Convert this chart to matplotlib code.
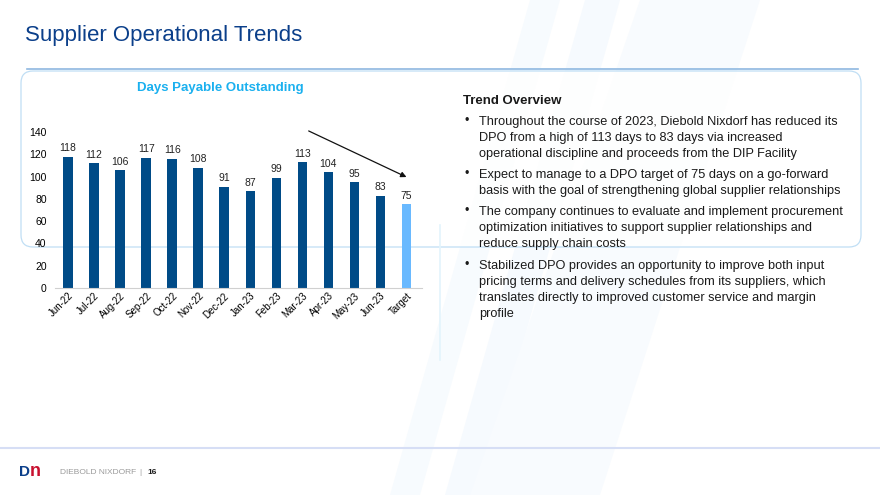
import matplotlib.pyplot as plt
from matplotlib.patches import FancyBboxPatch, Polygon

# Data
months = ["Jun-22", "Jul-22", "Aug-22", "Sep-22", "Oct-22", "Nov-22", "Dec-22",
          "Jan-23", "Feb-23", "Mar-23", "Apr-23", "May-23", "Jun-23", "Target"]
dpo = [118, 112, 106, 117, 116, 108, 91, 87, 99, 113, 104, 95, 83, 75]
yticks = [0, 20, 40, 60, 80, 100, 120, 140]

bullets = [
    "Throughout the course of 2023, Diebold Nixdorf has reduced its\nDPO from a high of 113 days to 83 days via increased\noperational discipline and proceeds from the DIP Facility",
    "Expect to manage to a DPO target of 75 days on a go-forward\nbasis with the goal of strengthening global supplier relationships",
    "The company continues to evaluate and implement procurement\noptimization initiatives to support supplier relationships and\nreduce supply chain costs",
    "Stabilized DPO provides an opportunity to improve both input\npricing terms and delivery schedules from its suppliers, which\ntranslates directly to improved customer service and margin\nprofile",
]

plt.rcParams['font.family'] = ['Liberation Sans', 'DejaVu Sans']
W, H = 880, 495
fig = plt.figure(figsize=(8.8, 4.95), dpi=100)

# background layer in pixel coords (y down)
bg = fig.add_axes([0, 0, 1, 1])
bg.set_xlim(0, W); bg.set_ylim(H, 0); bg.axis('off')

# faint diagonal stripes
for pts, c in [([(530, 0), (560, 0), (420, 495), (390, 495)], "#f7fbfe"),
               ([(585, 0), (620, 0), (480, 495), (445, 495)], "#f6fafe"),
               ([(640, 0), (760, 0), (600, 495), (470, 495)], "#f8fbfe")]:
    bg.add_patch(Polygon(pts, closed=True, fc=c, ec="none", zorder=0))

# title
bg.text(25, 36, "Supplier Operational Trends", fontsize=16, color="#0b3f8a",
        va="center", ha="left")
bg.plot([27, 858], [68.5, 68.5], color="#8fb8e0", lw=1.2)

# panel box
bg.add_patch(FancyBboxPatch((21, 71), 840, 176, boxstyle="round,pad=0,rounding_size=12",
                            fc="white", ec="#b5d9f3", lw=0.9, alpha=0.85, zorder=1))
bg.plot([440, 440], [225, 360], color="#e3f4fc", lw=1.2, zorder=1)

# right text
bg.text(463, 101, "Trend Overview", fontsize=9.5, fontweight="bold", color="#1a1a1a",
        va="center", ha="left", zorder=3)
ys = [121, 174, 211, 265]
for y, b in zip(ys, bullets):
    bg.text(467, y, "•", fontsize=9, color="#1a1a1a", va="center", ha="center", zorder=3)
    bg.text(479, y - 5, b, fontsize=9.2, color="#1a1a1a", va="top", ha="left",
            linespacing=1.45, zorder=3)

# footer
bg.plot([0, W], [448, 448], color="#d6def5", lw=1.5)
bg.text(19, 472, "D", fontsize=11, fontweight="bold", color="#0b3f8a", va="center")
bg.text(30, 472, "n", fontsize=13, fontweight="bold", color="#c8102e", va="center")
bg.text(60, 473, "DIEBOLD NIXDORF", fontsize=6, color="#9a9a9a", va="center")
bg.text(139, 473, "|", fontsize=6, color="#9a9a9a", va="center")
bg.text(147, 473, "16", fontsize=6, fontweight="bold", color="#1a1a1a", va="center")

# chart title
bg.text(220, 88, "Days Payable Outstanding", fontsize=9.5, fontweight="bold",
        color="#1ab0ef", ha="center", va="center", zorder=3)

# bar chart
ax = fig.add_axes([55 / W, 207 / H, 367 / W, 156 / H])
ax.patch.set_alpha(0)
x = list(range(len(months)))
colors = ["#004b87"] * (len(months) - 1) + ["#69b9ff"]
ax.bar(x, dpo, width=0.36, color=colors, zorder=2)
for xi, v in zip(x, dpo):
    ax.text(xi, v + 3, str(v), ha="center", va="bottom", fontsize=7.5, color="#222222")
ax.set_xlim(-0.5, 13.6)
ax.set_ylim(0, 140)
ax.set_yticks(yticks)
ax.set_xticks(x)
ax.set_xticklabels(months, rotation=45, ha="right", rotation_mode="anchor", fontsize=7)
ax.tick_params(axis="y", labelsize=7.5, length=0, pad=6)
ax.tick_params(axis="x", length=0, pad=2)
for s in ["top", "right", "left"]:
    ax.spines[s].set_visible(False)
ax.spines["bottom"].set_color("#d0d0d0")

ax.annotate("", xy=(13.1, 98.5), xytext=(9.15, 142),
            arrowprops=dict(arrowstyle="-|>", color="#111111", lw=0.9, mutation_scale=8),
            annotation_clip=False)

fig.savefig("out.png", dpi=100)
